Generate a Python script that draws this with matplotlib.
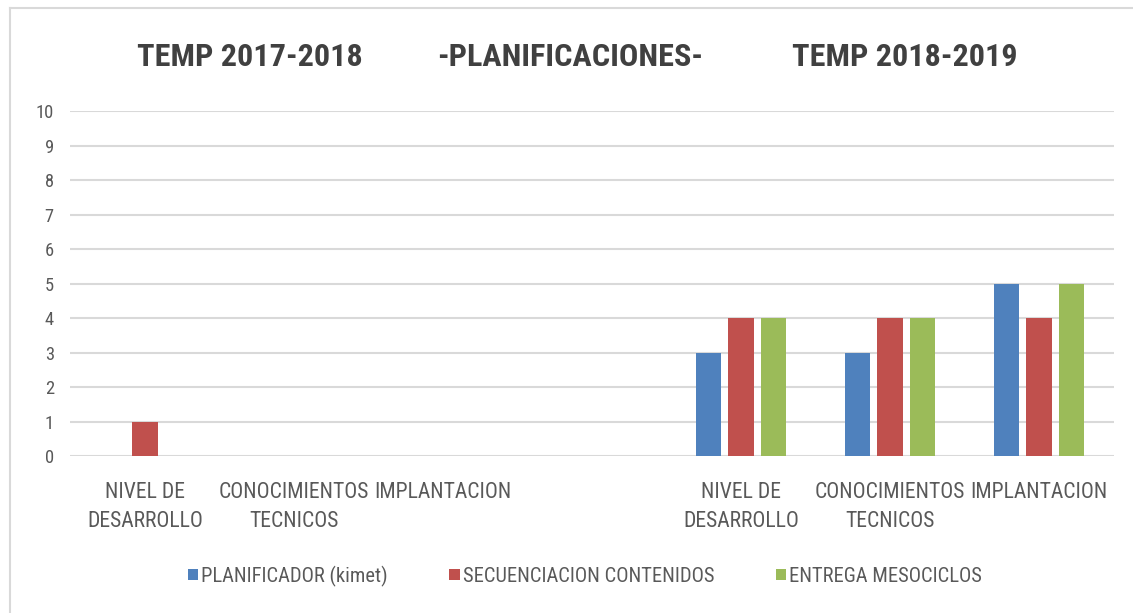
import numpy as np
import matplotlib
matplotlib.use("Agg")
import matplotlib.pyplot as plt
from matplotlib.lines import Line2D
from matplotlib import font_manager

# datos
categorias = ["NIVEL DE\nDESARROLLO", "CONOCIMIENTOS\nTECNICOS", "IMPLANTACION", "",
              "NIVEL DE\nDESARROLLO", "CONOCIMIENTOS\nTECNICOS", "IMPLANTACION"]
series = ["PLANIFICADOR (kimet)", "SECUENCIACION CONTENIDOS", "ENTREGA MESOCICLOS"]
planificador = [0, 0, 0, 0, 3, 3, 5]
secuenciacion = [1, 0, 0, 0, 4, 4, 4]
entrega = [0, 0, 0, 0, 4, 4, 5]
yticks = list(range(0, 11))
titulos = ["TEMP 2017-2018", "-PLANIFICACIONES-", "TEMP 2018-2019"]

colores = ["#4f81bd", "#c0504d", "#9bbb59"]
gris = "#595959"

# buscar una fuente estrecha si hay
nombres = {f.name for f in font_manager.fontManager.ttflist}
familia = 'DejaVu Sans'
estirado = 'normal'
for cand in ['Liberation Sans Narrow', 'Roboto Condensed', 'Open Sans Condensed']:
    if cand in nombres:
        familia = cand
        break
else:
    if any(f.name == 'DejaVu Sans' and 'Condensed' in f.fname for f in font_manager.fontManager.ttflist):
        estirado = 'condensed'
plt.rcParams['font.family'] = [familia, 'DejaVu Sans']
plt.rcParams['font.stretch'] = estirado

fig = plt.figure(figsize=(11.33, 6.13), dpi=100)
rend = fig.canvas.get_renderer()


def tam_para(texto, ancho_px, peso='normal'):
    """tamaño de letra para que el texto ocupe ancho_px"""
    prop = font_manager.FontProperties(family=[familia, 'DejaVu Sans'], weight=peso, stretch=estirado, size=10)
    w, h, d = rend.get_text_width_height_descent(texto, prop, ismath=False)
    return 10 * ancho_px / w


tam_tit = tam_para(titulos[0], 226, 'bold')
tam_x = min(tam_para("CONOCIMIENTOS", 151), 17)
tam_ley = min(tam_para(series[1], 252), 16)
tam_y = min(tam_para("10", 18), 15)

ax = fig.add_axes([0.0622, 0.2561, 0.9206, 0.5628])

x = np.arange(len(categorias))
ancho = 0.17
paso = 0.22
for i, (vals, nombre) in enumerate(zip([planificador, secuenciacion, entrega], series)):
    ax.bar(x + (i - 1) * paso, vals, width=ancho, color=colores[i], label=nombre, zorder=3)

ax.set_xlim(-0.5, len(categorias) - 0.5)
ax.set_ylim(0, 10)
ax.set_yticks(yticks)
ax.set_xticks(x)
ax.set_xticklabels(categorias, fontsize=tam_x, color=gris, linespacing=1.5)
ax.tick_params(axis='y', labelsize=tam_y, labelcolor=gris, length=0, pad=12)
ax.tick_params(axis='x', length=0, pad=19)
ax.grid(axis='y', color="#d9d9d9", linewidth=1.5, zorder=0)
for s in ax.spines.values():
    s.set_visible(False)

# titulo en tres partes
ty = 1 - 57 / 613
for cx, t in zip([250, 570, 905], titulos):
    fig.text(cx / 1133, ty, t, ha='center', va='center', fontsize=tam_tit, fontweight='bold', color="#404040")

fig.legend(loc='center', bbox_to_anchor=(585 / 1133, 1 - 576 / 613), ncol=3, frameon=False,
           fontsize=tam_ley, labelcolor=gris, handlelength=0.5, handleheight=0.5,
           handletextpad=0.15, columnspacing=3.0)

# marco
fig.add_artist(Line2D([10 / 1133, 10 / 1133], [0, 1 - 8 / 613], color="#d9d9d9", lw=1.5))
fig.add_artist(Line2D([10 / 1133, 1], [1 - 8 / 613, 1 - 8 / 613], color="#d9d9d9", lw=1.5))

fig.savefig("out.png", dpi=100)
